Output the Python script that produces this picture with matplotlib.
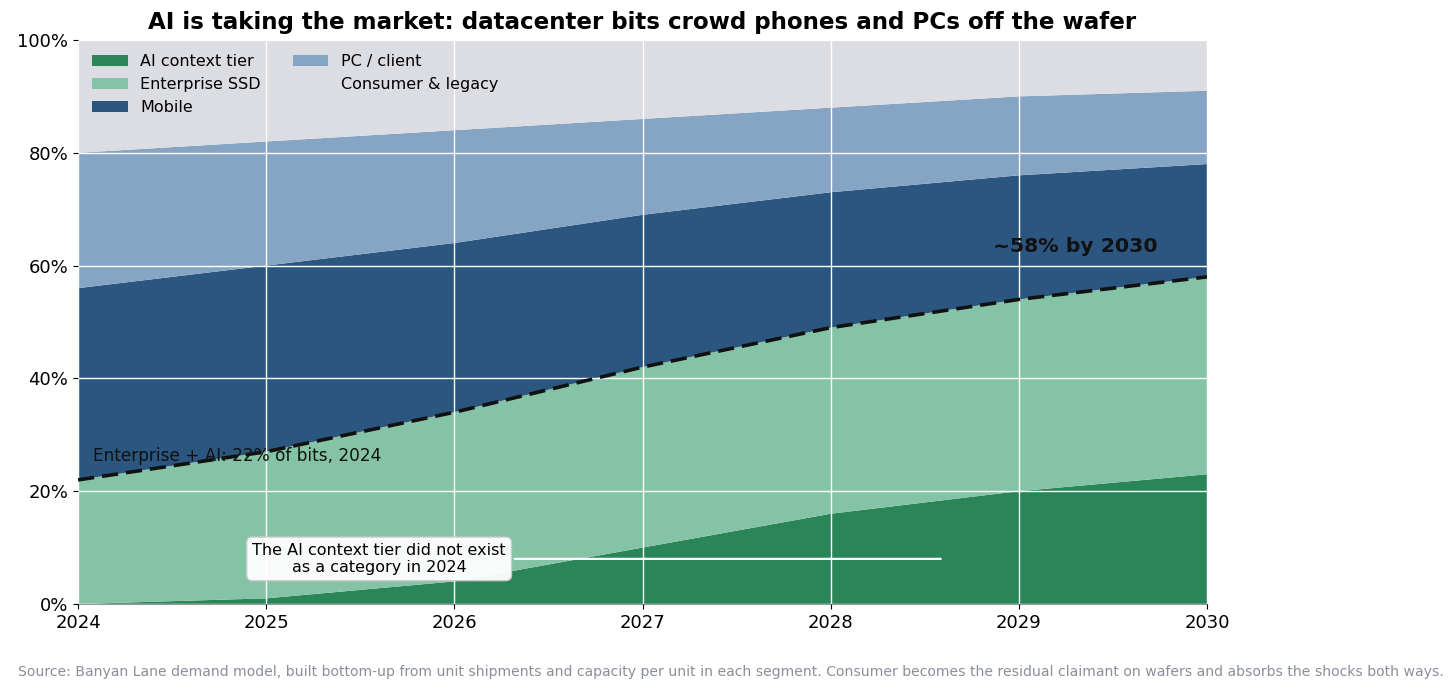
import matplotlib
matplotlib.use("Agg")
import matplotlib.pyplot as plt
import numpy as np
from matplotlib.ticker import FuncFormatter

years = [2024, 2025, 2026, 2027, 2028, 2029, 2030]
ai_context = [0, 1, 4, 10, 16, 20, 23]
enterprise_ssd = [22, 26, 30, 32, 33, 34, 35]
mobile = [34, 33, 30, 27, 24, 22, 20]
pc_client = [24, 22, 20, 17, 15, 14, 13]
consumer = [20, 18, 16, 14, 12, 10, 9]

labels = ["AI context tier", "Enterprise SSD", "Mobile", "PC / client", "Consumer & legacy"]
colors = ["#2a8659", "#84c3a5", "#2b567f", "#86a4c4", "#dcdde2"]

fig = plt.figure(figsize=(14.56, 6.94), dpi=100)
ax = fig.add_axes([0.0536, 0.1297, 0.7754, 0.8127])

ax.stackplot(years, ai_context, enterprise_ssd, mobile, pc_client, consumer,
             labels=labels, colors=colors, zorder=1)

ent_ai = np.array(ai_context) + np.array(enterprise_ssd)
ax.plot(years, ent_ai, color="#111111", lw=2.6, ls=(0, (4.5, 2.2)), zorder=4)

ax.set_xlim(2024, 2030)
ax.set_ylim(0, 100)
ax.set_xticks(years)
ax.set_yticks([0, 20, 40, 60, 80, 100])
ax.yaxis.set_major_formatter(FuncFormatter(lambda v, p: f"{v:.0f}%"))
ax.tick_params(labelsize=13)
ax.grid(True, color="white", lw=1.0, zorder=3)
ax.set_axisbelow(False)
for s in ["top", "right"]:
    ax.spines[s].set_visible(False)
for s in ["left", "bottom"]:
    ax.spines[s].set_color("#999999")

ax.set_title("AI is taking the market: datacenter bits crowd phones and PCs off the wafer",
             fontsize=16.6, fontweight="bold", pad=8)

leg = ax.legend(loc="upper left", ncol=2, frameon=False, fontsize=11.5,
                handlelength=2.2, columnspacing=2.0, labelspacing=0.5,
                bbox_to_anchor=(0.0, 1.0))

ax.text(2024.08, 26.3, "Enterprise + AI: 22% of bits, 2024", fontsize=12.2,
        color="#111111", va="center", ha="left", zorder=5)
ax.text(2029.3, 63.3, "~58% by 2030", fontsize=14.7, fontweight="bold",
        color="#111111", va="center", ha="center", zorder=5)

ax.annotate("The AI context tier did not exist\nas a category in 2024",
            xy=(2028.6, 8), xytext=(2025.6, 8), fontsize=11.5, ha="center", va="center",
            bbox=dict(boxstyle="round,pad=0.35", fc="white", ec="#cccccc", alpha=0.95),
            arrowprops=dict(arrowstyle="-", color="white", lw=1.6), zorder=6)

fig.text(0.0124, 0.031, "Source: Banyan Lane demand model, built bottom-up from unit shipments and capacity per unit in each segment. Consumer becomes the residual claimant on wafers and absorbs the shocks both ways.",
         fontsize=10.05, color="#8a8f99", ha="left", va="center")

fig.savefig("out.png", dpi=100)
